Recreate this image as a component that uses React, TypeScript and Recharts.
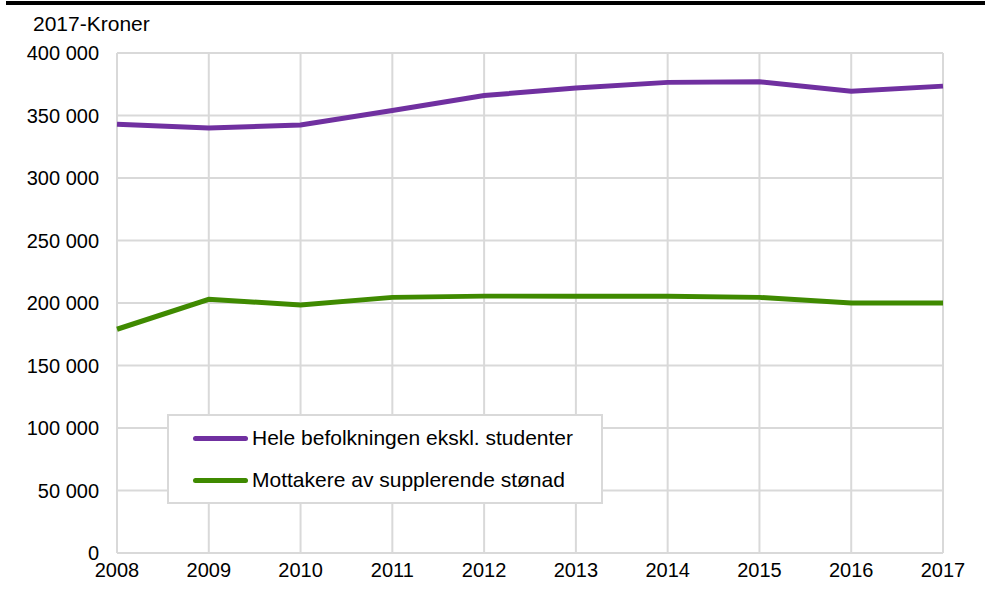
import React from "react";
import { LineChart, Line, XAxis, YAxis, CartesianGrid } from "recharts";

const years = ["2008", "2009", "2010", "2011", "2012", "2013", "2014", "2015", "2016", "2017"];
const heleBefolkningen = [343000, 340000, 342400, 354000, 366000, 372000, 376500, 377000, 369500, 373500];
const mottakere = [179000, 203000, 198500, 204500, 205500, 205500, 205500, 204500, 200000, 200000];
const yTicks = [0, 50000, 100000, 150000, 200000, 250000, 300000, 350000, 400000];

const seriesNames = ["Hele befolkningen ekskl. studenter", "Mottakere av supplerende stønad"];
const seriesColors = ["#7030a0", "#3f8a00"];

const data = years.map((y, i) => ({ year: y, hele: heleBefolkningen[i], mott: mottakere[i] }));

const fmt = (v: number) => (v === 0 ? "0" : (v / 1000).toFixed(0) + " 000");

const FONT = "'Liberation Sans', Arial, sans-serif";

const LegendBox = () => (
  <div
    style={{
      position: "absolute",
      left: 167,
      top: 414,
      width: 432,
      height: 86,
      border: "2px solid #d9d9d9",
      background: "#fff",
      fontFamily: FONT,
      fontSize: 21,
      color: "#000",
    }}
  >
    {seriesNames.map((n, i) => (
      <div
        key={n}
        style={{ position: "absolute", left: 24, top: 8 + i * 42, height: 28, display: "flex", alignItems: "center" }}
      >
        <div style={{ width: 55, height: 5, borderRadius: 3, background: seriesColors[i], marginRight: 4 }} />
        <span>{n}</span>
      </div>
    ))}
  </div>
);

export default function App() {
  return (
    <div style={{ position: "absolute", left: 0, top: 0, width: 985, height: 594, background: "#fff" }}>
      <LineChart width={985} height={594} data={data} margin={{ top: 53, right: 42, bottom: 11, left: 0 }}>
        <CartesianGrid stroke="#d9d9d9" strokeWidth={2} vertical horizontal />
        <XAxis
          dataKey="year"
          height={30}
          axisLine={false}
          tickLine={false}
          interval={0}
          tickMargin={4}
          tick={{ fill: "#000", fontSize: 20, fontFamily: FONT }}
        />
        <YAxis
          width={117}
          domain={[0, 400000]}
          ticks={yTicks}
          tickFormatter={fmt}
          axisLine={false}
          tickLine={false}
          tickMargin={12}
          interval={0}
          tick={{ fill: "#000", fontSize: 20, fontFamily: FONT }}
        />
        <Line dataKey="hele" name={seriesNames[0]} stroke={seriesColors[0]} strokeWidth={5} dot={false} isAnimationActive={false} />
        <Line dataKey="mott" name={seriesNames[1]} stroke={seriesColors[1]} strokeWidth={5} dot={false} isAnimationActive={false} />
      </LineChart>
      <div style={{ position: "absolute", left: 6, top: 1, width: 979, height: 4, background: "#000" }} />
      <div style={{ position: "absolute", left: 33, top: 12, fontFamily: FONT, fontSize: 21, color: "#000", lineHeight: "24px" }}>
        2017-Kroner
      </div>
      <LegendBox />
    </div>
  );
}
